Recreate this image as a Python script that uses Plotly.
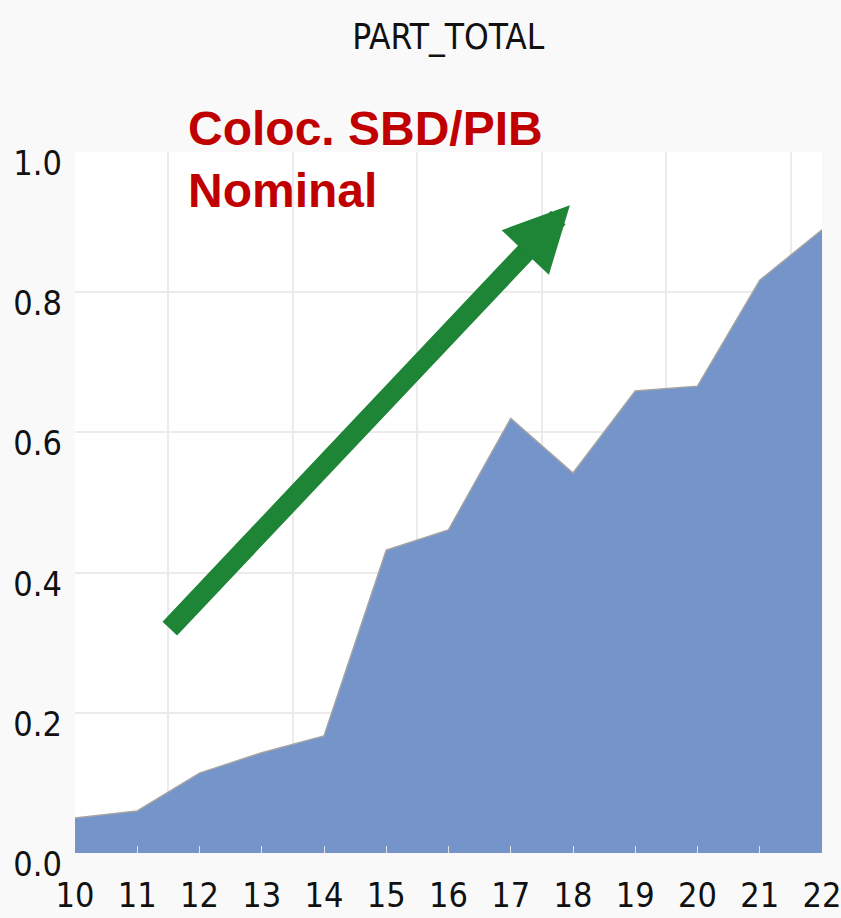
import plotly.graph_objects as go

years = [10, 11, 12, 13, 14, 15, 16, 17, 18, 19, 20, 21, 22]
part_total = [0.050, 0.060, 0.114, 0.143, 0.167, 0.432, 0.461, 0.620, 0.542, 0.659, 0.666, 0.817, 0.889]
y_ticks = [0.0, 0.2, 0.4, 0.6, 0.8, 1.0]
y_ticktext = ["0.0", "0.2", "0.4", "0.6", "0.8", "1.0"]
x_ticktext = [str(v) for v in years]

narrow = "Liberation Sans Narrow, Arial Narrow, DejaVu Sans Condensed, sans-serif"

fig = go.Figure()
fig.add_trace(go.Scatter(
    x=years, y=part_total, mode="lines", fill="tozeroy",
    fillcolor="#7494ca", line=dict(color="#a3a3a3", width=1.5),
    hoverinfo="skip", showlegend=False,
))

fig.update_layout(
    width=841, height=918,
    margin=dict(l=75, r=19, t=152, b=65, autoexpand=False),
    paper_bgcolor="#f9f9f9", plot_bgcolor="#ffffff",
    title=dict(text="PART_TOTAL", x=0.533, xanchor="center", y=1 - 37 / 918,
               yanchor="middle", yref="container",
               font=dict(family=narrow, size=35, color="#111111")),
    xaxis=dict(range=[10, 22], tickvals=years, ticktext=x_ticktext,
               automargin=False, ticklabeloverflow="allow",
               showgrid=False, zeroline=False, showline=False,
               ticks="inside", ticklen=7, tickcolor="#e3e3e3", tickwidth=1,
               ticklabelstandoff=19,
               tickfont=dict(family=narrow, size=34, color="#111111"),
               minor=dict(tick0=11.5, dtick=2, showgrid=True,
                          gridcolor="#ebebeb", gridwidth=1.5)),
    yaxis=dict(range=[0, 1], tickvals=y_ticks, ticktext=y_ticktext,
               automargin=False, ticklabeloverflow="allow",
               showgrid=True, gridcolor="#ebebeb", gridwidth=1.5,
               zeroline=False, showline=False, ticks="",
               ticklabelstandoff=12, ticklabelshift=11,
               tickfont=dict(family=narrow, size=34, color="#111111")),
)

fig.add_annotation(
    text="<b>Coloc. SBD/PIB<br>Nominal</b>",
    xref="paper", yref="paper", x=(186 - 75) / 747, y=(853 - 100) / 701,
    xanchor="left", yanchor="top", align="left", showarrow=False,
    font=dict(family="Liberation Sans, Arial, sans-serif", size=48, color="#c00000"),
)

fig.add_annotation(
    text="", x=17.95, y=0.924, ax=11.5, ay=0.318,
    xref="x", yref="y", axref="x", ayref="y",
    showarrow=True, arrowhead=2, arrowsize=0.65, arrowwidth=20,
    arrowcolor="#1e8537", standoff=0,
)

fig.write_html("out.html", config={"displayModeBar": False},
               post_script="document.body.style.margin='0';document.body.style.background='#f9f9f9';")
